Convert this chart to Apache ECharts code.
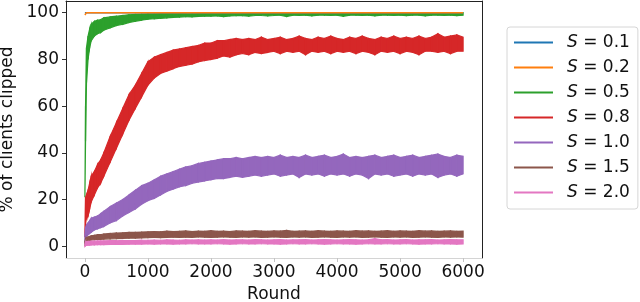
<!DOCTYPE html>
<html><head><meta charset="utf-8">
<script src="https://cdn.jsdelivr.net/npm/echarts@6/dist/echarts.min.js"></script>
<style>html,body{margin:0;padding:0;background:#fff}#c{width:640px;height:302px}</style>
</head><body><div id="c"></div>
<script>
// ---- data ----
const rounds = [0,10,25,50,75,100,150,200,250,300,400,500,600,700,800,900,
 1000,1100,1200,1300,1400,1500,1600,1700,1800,1900,
 2000,2100,2200,2300,2400,2500,2600,2700,2800,2900,
 3000,3100,3200,3300,3400,3500,3600,3700,3800,3900,
 4000,4100,4200,4300,4400,4500,4600,4700,4800,4900,
 5000,5100,5200,5300,5400,5500,5600,5700,5800,5900,6000];

const s01Rounds = [0, 6000];
const s01Vals = [100, 100];
const s02Rounds = [0, 10, 25, 6000];
const s02Vals = [99, 99.5, 100, 100];

const s05Lo = [21,45,70,80,85,88,90,91,91.5,92.5,93.5,94.5,95,95.8,96.3,96.8,
 97.2,97.4,97.6,97.8,98,98.1,98.3,98.2,98.4,98.5,
 98.5,98.6,98.3,98.6,98.7,98.7,98.5,98.8,98.8,98.6,
 98.8,98.9,98.4,98.9,98.8,98.9,98.6,98.9,98.9,98.8,
 98.9,98.5,98.9,98.9,98.8,98.9,98.6,98.9,98.9,98.8,
 98.9,98.7,98.9,98.9,98.6,98.9,98.9,98.8,98.9,98.7,98.9];
const s05Hi = [21,60,85,90,93,95,96.3,96.8,97,97.8,98.2,98.5,98.8,99.1,99.3,99.4,
 99.5,99.5,99.6,99.6,99.7,99.7,99.8,99.8,99.9,99.9,
 100,99.9,100,100,99.9,100,100,99.9,100,100,
 99.9,100,100,99.9,100,100,100,99.9,100,100,
 100,99.9,100,100,100,99.9,100,100,99.9,100,
 100,100,99.9,100,100,99.9,100,100,100,99.9,100];

const s08Lo = [4,10,12,13,16,19,22,25,27,30,36,42,48,54,59,64,
 69,72,74,75,76,77,77.5,78,79,79.5,
 80,80.5,81.5,81,82,82.5,82,83,82.5,83,
 83.5,82.5,83.5,83,83.5,82,83.5,83,83.5,82.5,
 83.5,83,83.5,82.5,83.5,83,82,83.5,83,83.5,
 82.5,83.5,83,82,83.5,83.5,83,83.5,82.5,83.5,83.5];
const s08Hi = [6,21,22,24,27,30,32,35,37,40,47,53,59,65,69,74,
 79,81,82,83,84,84.5,85,85.5,86,87,
 87,88,88,88.5,89,88.5,89,88.5,89.5,88.5,
 89,89.5,88.5,89,90,89,88.5,89.5,89,90,
 89,88.5,89.5,89,90,89,88.5,89.5,89,90,
 89,89.5,89,90,89,89.5,91,89.5,90,90.5,89.5];

const s10Lo = [1,3,4,5,5.5,6,7,7.5,8,8.5,10,11,13,14.5,16,18,
 19.5,20.5,22,23.5,24.5,25.5,26,27,27.5,28,
 28.5,29,29,29.5,30,29.5,30,30.5,30,30.5,
 31,30,30.5,31,29.5,31,30.5,31,30,31,
 30.5,31,30,31,30.5,29,31,30.5,31,30,
 30.5,31,30,31,30.5,31,29.5,30.5,31,30,31];
const s10Hi = [5,8,9,10,11,12,12.5,13,14,15,17,18.5,20,22,24,26,
 27,28.5,30,31,32,33,34,34.5,35.5,36,
 36.5,37,37.5,37.5,38,37.5,38,38.5,38,38.5,
 38,39,38,38.5,38,39,38,38.5,39,38,
 38.5,39.5,38,38.5,38,38.5,39,38,38.5,39,
 38,38.5,39,38,38.5,39,39.5,38.5,38,39,38.5];

const s15Lo = [0,1.5,2,2.5,2.5,2.7,2.8,3,3,3.1,3.2,3.3,3.4,3.5,3.5,3.6,
 3.7,3.8,3.7,3.8,3.9,3.8,3.9,3.8,4,3.9,
 3.8,3.9,4,3.9,3.8,4,3.9,4,3.8,3.9,
 4,3.9,3.8,4,3.9,4,3.8,3.9,4,3.9,
 3.8,4,3.9,4,3.8,3.9,4,3.9,3.8,4,
 3.9,4,3.8,3.9,4,3.9,3.8,4,3.9,4,3.9];
const s15Hi = [2,3,3.5,4,4.2,4.5,4.7,5,5,5.3,5.5,5.7,5.8,6,6,6.1,
 6.2,6.3,6.2,6.5,6.3,6.4,6.6,6.3,6.5,6.4,
 6.7,6.4,6.5,6.3,6.6,6.5,6.4,6.7,6.5,6.4,
 6.6,6.5,6.8,6.4,6.5,6.6,6.4,6.7,6.5,6.4,
 6.6,6.5,6.4,6.7,6.5,6.6,6.4,6.5,6.7,6.4,
 6.6,6.5,6.4,6.7,6.5,6.6,6.4,6.5,6.6,6.4,6.5];

const s20Lo = [0,0.3,0.4,0.5,0.5,0.6,0.6,0.7,0.7,0.7,0.8,0.8,0.8,0.9,0.9,0.9,
 1,0.9,1,1,0.9,1,1,1.1,1,1,
 1,1.1,1,0.9,1,1.1,1,1,1.1,1,
 1,0.9,1,1.1,1,1,1.1,1,0.9,1,
 1.1,1,1,0.9,1,1.1,1,1,1.1,1,
 1,1.1,1,0.9,1,1,1.1,1,1,0.9,1];
const s20Hi = [1,1.8,2,2.1,2.1,2.2,2.2,2.3,2.3,2.3,2.4,2.4,2.5,2.5,2.5,2.6,
 2.6,2.7,2.6,2.8,2.7,2.6,2.8,2.7,2.8,2.7,
 2.8,2.7,2.9,2.7,2.8,2.8,2.7,2.9,2.8,2.7,
 2.8,2.9,2.7,2.8,2.8,2.9,2.7,2.8,2.9,2.8,
 2.7,2.8,2.9,2.8,2.7,2.8,3.3,2.8,2.9,2.7,
 2.8,2.9,2.7,2.8,2.8,2.9,2.7,2.8,2.9,2.8,2.8];

const names = ['S = 0.1','S = 0.2','S = 0.5','S = 0.8','S = 1.0','S = 1.5','S = 2.0'];
const colors = ['#1f77b4','#ff7f0e','#2ca02c','#d62728','#9467bd','#8c564b','#e377c2'];
const xTicks = [0,1000,2000,3000,4000,5000,6000];
const yTicks = [0,20,40,60,80,100];
// -------------------------------------

const FONT = 'DejaVu Sans';

function simpleLine(name, color, xs, ys) {
  return {name, type:'line', data: xs.map((x,i)=>[x, ys[i]]), symbol:'none',
    lineStyle:{color, width:1.5}, itemStyle:{color}, silent:true};
}
// band between lower and upper envelope, drawn segment by segment via the axis scales
function band(name, color, lo, hi) {
  const data = [];
  for (let i = 0; i < rounds.length - 1; i++) {
    data.push([rounds[i], lo[i], hi[i], rounds[i+1], lo[i+1], hi[i+1]]);
  }
  return {
    name, type:'custom', data, itemStyle:{color}, silent:true,
    encode:{x:[0,3], y:[1,2,4,5]},
    renderItem: (params, api) => {
      const a = api.coord([api.value(0), api.value(1)]);
      const b = api.coord([api.value(0), api.value(2)]);
      const c = api.coord([api.value(3), api.value(5)]);
      const d = api.coord([api.value(3), api.value(4)]);
      return {type:'polygon', shape:{points:[a,b,c,d]},
        style:{fill:color, stroke:color, lineWidth:1.2}};
    }
  };
}

const series = [
  simpleLine(names[0], colors[0], s01Rounds, s01Vals),
  simpleLine(names[1], colors[1], s02Rounds, s02Vals),
  band(names[2], colors[2], s05Lo, s05Hi),
  band(names[3], colors[3], s08Lo, s08Hi),
  band(names[4], colors[4], s10Lo, s10Hi),
  band(names[5], colors[5], s15Lo, s15Hi),
  band(names[6], colors[6], s20Lo, s20Hi)
];

const labelStyle = {fontSize:17, color:'#111', fontFamily:FONT};

const chart = echarts.init(document.getElementById('c'), null, {renderer:'canvas'});
chart.setOption({
  animation:false,
  backgroundColor:'#fff',
  grid:{left:66, right:158, top:1, bottom:44, containLabel:false, outerBoundsMode:'none'},
  xAxis:[
    {type:'value', min:-300, max:6300, position:'bottom',
     axisLine:{show:true, onZero:false, lineStyle:{color:'#d4d4d4', width:1}},
     axisTick:{show:true, length:4, customValues:xTicks, lineStyle:{color:'#c4c4c4'}},
     axisLabel:Object.assign({customValues:xTicks, margin:6, formatter:v=>String(v)}, labelStyle),
     splitLine:{show:false},
     name:'Round', nameLocation:'middle', nameGap:28, nameTextStyle:labelStyle},
    {type:'value', min:-300, max:6300, position:'top',
     axisLine:{show:true, onZero:false, lineStyle:{color:'#222', width:1}},
     axisTick:{show:false}, axisLabel:{show:false}, splitLine:{show:false}}
  ],
  yAxis:[
    {type:'value', min:-5, max:105, position:'left',
     axisLine:{show:true, onZero:false, lineStyle:{color:'#222', width:1}},
     axisTick:{show:true, length:4, customValues:yTicks, lineStyle:{color:'#333'}},
     axisLabel:Object.assign({customValues:yTicks, margin:7, formatter:v=>String(v)}, labelStyle),
     splitLine:{show:false},
     name:'% of clients clipped', nameLocation:'middle', nameRotate:90, nameGap:45,
     nameTextStyle:labelStyle},
    {type:'value', min:-5, max:105, position:'right',
     axisLine:{show:true, onZero:false, lineStyle:{color:'#222', width:1}},
     axisTick:{show:false}, axisLabel:{show:false}, splitLine:{show:false}}
  ],
  legend:{
    orient:'vertical', left:507, top:27, padding:[7,8,8,7], itemGap:8,
    itemWidth:39, itemHeight:2, icon:'rect', data:names,
    borderColor:'#d6d6d6', borderWidth:1, borderRadius:3, backgroundColor:'#fff',
    selectedMode:false,
    formatter: n => '{i|S}{n|' + n.slice(1) + '}',
    textStyle:{fontSize:17, color:'#111', fontFamily:FONT,
      rich:{
        i:{fontStyle:'italic', fontSize:17, fontFamily:FONT, color:'#111', padding:[0,0,0,9], lineHeight:20},
        n:{fontSize:17, fontFamily:FONT, color:'#111', lineHeight:20}
      }}
  },
  series
});
</script>
</body></html>
